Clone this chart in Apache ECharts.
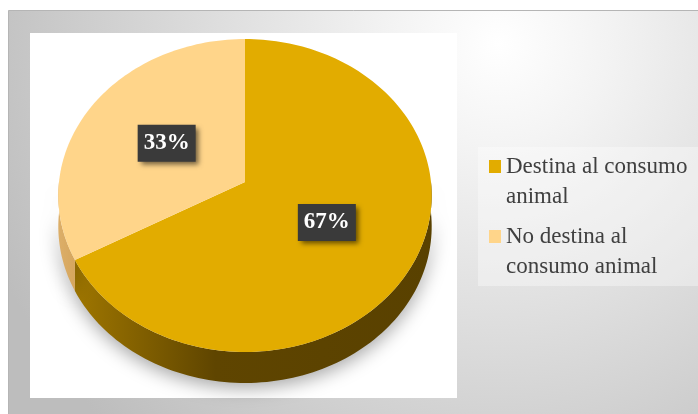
<!DOCTYPE html>
<html>
<head>
<meta charset="utf-8">
<script src="https://cdn.jsdelivr.net/npm/echarts@6/dist/echarts.min.js"></script>
<style>
  html, body { margin: 0; padding: 0; background: #ffffff; }
  #chart { width: 698px; height: 414px; }
</style>
</head>
<body>
<div id="chart"></div>
<script>
// Categories and their shares (%)
const categories = ['Destina al consumo animal', 'No destina al consumo animal'];
const shares = [67, 33];
const sliceColors = ['#E2AC00', '#FFD58A'];
const sideStops = [
  [[0, '#a87f08'], [0.06, '#9c7400'], [0.42, '#5f4500'], [1, '#594100']],
  [[0, '#dcae68'], [0.06, '#d3a359'], [0.42, '#b88a40'], [1, '#a67a30']]
];

// Pie geometry: tilted disc with light perspective
const PIE = { cx: 245, cy: 182, rx: 186, ry: 155.3, persp: 0.0863, depth: 31 };

const total = shares.reduce((s, v) => s + v, 0);
const startAngles = [];
(function () {
  let acc = 0;
  shares.forEach(v => { startAngles.push(acc / total * 360); acc += v; });
})();

// Compass angle in degrees (0 = 12 o'clock, clockwise), f = radius fraction
function project(deg, f) {
  const t = deg * Math.PI / 180;
  const u = Math.sin(t) * f, v = Math.cos(t) * f;
  const d = 1 + PIE.persp * v;
  return [PIE.cx + PIE.rx * u / d, PIE.cy - PIE.ry * v / d];
}
function arcPoints(a0, a1, f) {
  const n = Math.max(2, Math.ceil(Math.abs(a1 - a0) / 1.5));
  const pts = [];
  for (let k = 0; k <= n; k++) pts.push(project(a0 + (a1 - a0) * k / n, f));
  return pts;
}

function renderSlice(i, api) {
  const value = api.value(0);
  const a0 = startAngles[i];
  const a1 = a0 + value / total * 360;
  const children = [];

  // visible rim: front half of the disc
  const s0 = Math.max(a0, 90), s1 = Math.min(a1, 270);
  if (s1 > s0) {
    const rim = arcPoints(s0, s1, 1);
    const lower = rim.map(p => [p[0], p[1] + PIE.depth]).reverse();
    children.push({
      type: 'polygon',
      z2: 1,
      shape: { points: rim.concat(lower) },
      style: {
        fill: {
          type: 'linear', x: PIE.cx - PIE.rx, y: 0, x2: PIE.cx + PIE.rx, y2: 0, global: true,
          colorStops: sideStops[i].map(s => ({ offset: s[0], color: s[1] }))
        },
        shadowBlur: 18,
        shadowColor: 'rgba(0,0,0,0.35)',
        shadowOffsetY: 5
      }
    });
  }

  // top face
  const top = [project(0, 0)].concat(arcPoints(a0, a1, 1));
  children.push({
    type: 'polygon',
    z2: 5,
    shape: { points: top },
    style: { fill: sliceColors[i] }
  });

  // percentage label
  const mid = (a0 + a1) / 2;
  const lp = project(mid, 0.5);
  children.push({
    type: 'text',
    z2: 10,
    x: lp[0],
    y: lp[1],
    style: {
      text: Math.round(value / total * 100) + '%',
      fill: '#ffffff',
      font: 'bold 23px "Liberation Serif", "Times New Roman", serif',
      align: 'center',
      verticalAlign: 'middle',
      lineHeight: 27,
      padding: [5, 6, 5, 6],
      backgroundColor: '#3a3a3a',
      shadowColor: 'rgba(0,0,0,0.55)',
      shadowBlur: 5,
      shadowOffsetX: 3,
      shadowOffsetY: 3
    }
  });

  return { type: 'group', children };
}

const chart = echarts.init(document.getElementById('chart'), null, { renderer: 'canvas' });

chart.setOption({
  animation: false,
  backgroundColor: '#ffffff',
  graphic: [
    {
      type: 'rect', z: 0,
      shape: { x: 8.5, y: 10.5, width: 700, height: 420 },
      style: {
        fill: {
          type: 'radial', x: 0.7, y: 0.08, r: 1.3,
          colorStops: [
            { offset: 0, color: '#ffffff' },
            { offset: 0.2, color: '#f3f3f3' },
            { offset: 1, color: '#bdbdbd' }
          ]
        },
        stroke: '#b5b5b5',
        lineWidth: 1
      }
    },
    {
      type: 'rect', z: 0,
      shape: { x: 30, y: 33, width: 427, height: 365 },
      style: { fill: '#ffffff' }
    },
    {
      type: 'rect', z: 0,
      shape: { x: 478, y: 147, width: 220, height: 139 },
      style: { fill: 'rgba(255,255,255,0.35)' }
    }
  ],
  legend: {
    orient: 'vertical',
    left: 489,
    top: 121.5,
    padding: 0,
    itemWidth: 12,
    itemHeight: 13,
    itemGap: -20,
    icon: 'rect',
    data: categories,
    // leading blank line keeps the first text line level with the swatch
    formatter: name => '\n' + name,
    textStyle: {
      fontFamily: '"Liberation Serif", "Times New Roman", serif',
      fontSize: 23,
      lineHeight: 30,
      color: '#404040',
      width: 190,
      overflow: 'break'
    }
  },
  series: categories.map((name, i) => ({
    type: 'custom',
    name: name,
    coordinateSystem: 'none',
    data: [shares[i]],
    itemStyle: { color: sliceColors[i] },
    renderItem: (params, api) => renderSlice(i, api)
  }))
});
</script>
</body>
</html>
